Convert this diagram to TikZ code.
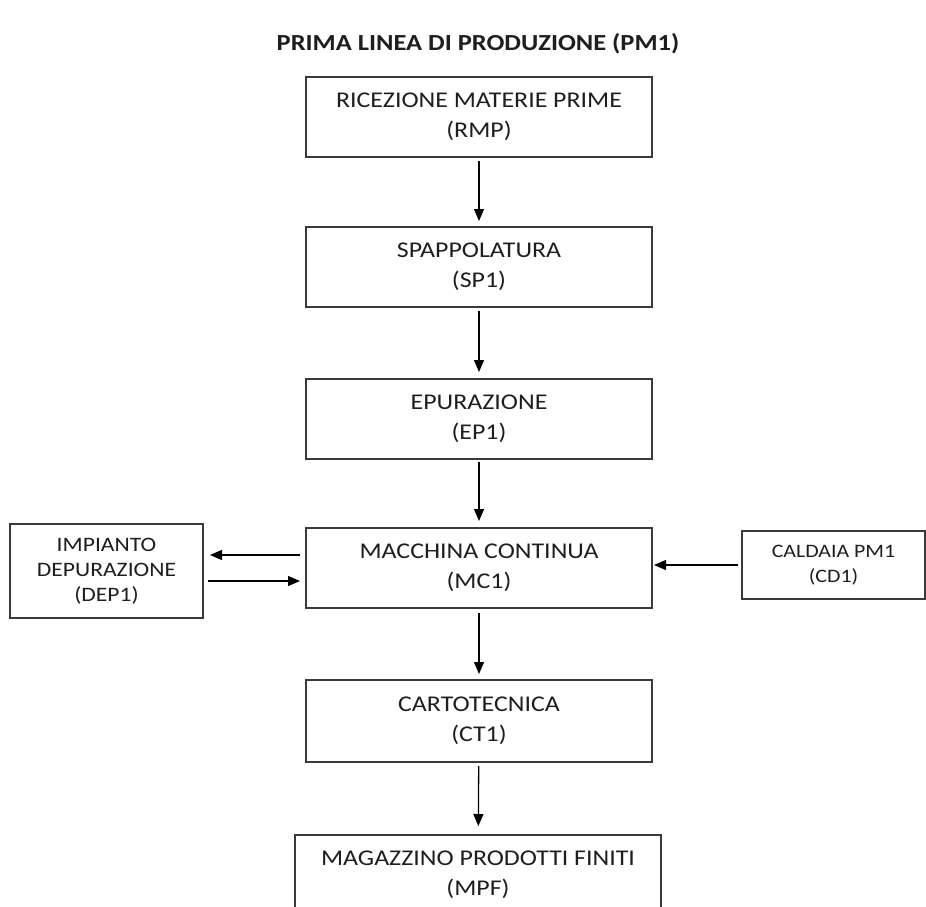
\documentclass[tikz,border=0pt]{standalone}
\usepackage{fontspec}
\setmainfont{Carlito}[FakeStretch=1.15]
\usetikzlibrary{arrows.meta}
\definecolor{ink}{HTML}{1E1E1E}
\definecolor{edge}{HTML}{3A3A3A}
\begin{document}
\begin{tikzpicture}[x=1pt,y=-1pt,
  box/.style={draw=edge, line width=2pt, minimum width=346pt, minimum height=80pt,
    align=center, text=ink, font=\fontsize{22.5}{30}\selectfont, inner sep=0pt},
  sbox/.style={box, font=\fontsize{19}{25}\selectfont},
  arr/.style={-{Triangle[length=12pt,width=10pt]}, line width=1.3pt, draw=black}]
\clip (0,0) rectangle (926,907);
\fill[white] (0,0) rectangle (926,907);

\node[font=\bfseries\fontsize{23}{25}\selectfont, text=ink] (title) at (478,44) {PRIMA LINEA DI PRODUZIONE (PM1)};

\node[box] (rmp) at (479,117) {RICEZIONE MATERIE PRIME\\(RMP)};
\node[box] (sp1) at (479,267) {SPAPPOLATURA\\(SP1)};
\node[box] (ep1) at (479,419) {EPURAZIONE\\(EP1)};
\node[box] (mc1) at (479,568) {MACCHINA CONTINUA\\(MC1)};
\node[box, minimum height=82pt] (ct1) at (479,721) {CARTOTECNICA\\(CT1)};
\node[box, minimum width=366pt] (mpf) at (478,875) {MAGAZZINO PRODOTTI FINITI\\(MPF)};

\node[sbox, font=\fontsize{20.5}{25}\selectfont, minimum width=193pt, minimum height=94pt] (dep1) at (106.5,571) {IMPIANTO\\DEPURAZIONE\\(DEP1)};
\node[sbox, minimum width=183pt, minimum height=68pt] (cd1) at (833.5,565) {CALDAIA PM1\\(CD1)};

\draw[arr, shorten <=3pt, shorten >=5pt] (rmp) -- (sp1);
\draw[arr, shorten <=3pt, shorten >=6pt] (sp1) -- (ep1);
\draw[arr, shorten <=2pt, shorten >=6pt] (ep1) -- (mc1);
\draw[arr, shorten <=4pt, shorten >=5pt] (mc1) -- (ct1);
\draw[arr, shorten <=3pt, shorten >=8pt] (ct1) -- (mpf);

\draw[arr, shorten <=5pt, shorten >=6pt] ([yshift=13pt]mc1.west) -- ([yshift=13pt]mc1.west -| dep1.east);
\draw[arr, shorten <=4pt, shorten >=5pt] ([yshift=-13pt]mc1.west -| dep1.east) -- ([yshift=-13pt]mc1.west);
\draw[arr, shorten <=3pt, shorten >=1pt] (cd1.west) -- (cd1.west -| mc1.east);
\end{tikzpicture}
\end{document}
